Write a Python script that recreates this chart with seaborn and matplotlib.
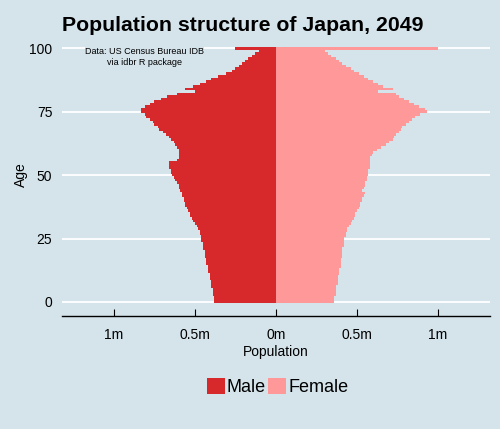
import numpy as np
import pandas as pd
import matplotlib
matplotlib.use('Agg')
import matplotlib.pyplot as plt
import seaborn as sns

# Japan, 2049 (US Census Bureau IDB projection), population in millions, ages 0..100
ages = list(range(0, 101))

male = [
    0.38, 0.38, 0.38, 0.39, 0.39, 0.39, 0.40, 0.40, 0.40, 0.41,   # 0-9
    0.41, 0.41, 0.42, 0.42, 0.42, 0.43, 0.43, 0.43, 0.44, 0.44,   # 10-19
    0.44, 0.45, 0.45, 0.45, 0.46, 0.46, 0.46, 0.47, 0.47, 0.48,   # 20-29
    0.49, 0.50, 0.51, 0.52, 0.53, 0.53, 0.54, 0.55, 0.56, 0.56,   # 30-39
    0.57, 0.57, 0.58, 0.58, 0.59, 0.60, 0.60, 0.61, 0.62, 0.63,   # 40-49
    0.64, 0.65, 0.65, 0.66, 0.66, 0.66, 0.61, 0.60, 0.60, 0.60,   # 50-59
    0.60, 0.61, 0.62, 0.63, 0.65, 0.66, 0.68, 0.70, 0.72, 0.73,   # 60-69
    0.75, 0.76, 0.78, 0.80, 0.81, 0.83, 0.83, 0.81, 0.78, 0.75,   # 70-79
    0.71, 0.67, 0.61, 0.50, 0.56, 0.51, 0.47, 0.43, 0.40, 0.36,   # 80-89
    0.31, 0.27, 0.25, 0.23, 0.21, 0.19, 0.17, 0.15, 0.13, 0.105,  # 90-99
    0.25,                                                         # 100+
]

female = [
    0.36, 0.36, 0.36, 0.37, 0.37, 0.37, 0.37, 0.38, 0.38, 0.38,   # 0-9
    0.38, 0.39, 0.39, 0.39, 0.40, 0.40, 0.40, 0.40, 0.41, 0.41,   # 10-19
    0.41, 0.41, 0.42, 0.42, 0.42, 0.42, 0.43, 0.43, 0.44, 0.44,   # 20-29
    0.45, 0.46, 0.47, 0.48, 0.49, 0.49, 0.50, 0.51, 0.52, 0.52,   # 30-39
    0.53, 0.53, 0.54, 0.55, 0.53, 0.54, 0.55, 0.55, 0.56, 0.56,   # 40-49
    0.57, 0.57, 0.57, 0.58, 0.58, 0.58, 0.58, 0.58, 0.59, 0.60,   # 50-59
    0.62, 0.65, 0.68, 0.70, 0.72, 0.73, 0.74, 0.76, 0.77, 0.78,   # 60-69
    0.80, 0.82, 0.84, 0.86, 0.89, 0.93, 0.92, 0.88, 0.85, 0.82,   # 70-79
    0.79, 0.76, 0.74, 0.63, 0.72, 0.66, 0.63, 0.60, 0.57, 0.54,   # 80-89
    0.51, 0.48, 0.46, 0.43, 0.41, 0.39, 0.37, 0.34, 0.32, 0.30,   # 90-99
    1.00,                                                         # 100+
]

x_ticks = [-1e6, -0.5e6, 0, 0.5e6, 1e6]
x_labels = ['1m', '0.5m', '0m', '0.5m', '1m']
y_ticks = [0, 25, 50, 75, 100]

bg = '#d5e4eb'
colors = {'Male': '#d7292b', 'Female': '#ff9999'}

# long format, males on the negative side
df = pd.DataFrame({
    'age': ages + ages,
    'population': [-v * 1e6 for v in male] + [v * 1e6 for v in female],
    'sex': ['Male'] * len(ages) + ['Female'] * len(ages),
})

sns.set_theme(style='white', rc={'axes.facecolor': bg, 'figure.facecolor': bg,
                                 'text.color': 'black', 'axes.labelcolor': 'black',
                                 'xtick.color': 'black', 'ytick.color': 'black'})
plt.rcParams['font.family'] = ['Liberation Sans', 'DejaVu Sans']

fig, ax = plt.subplots(figsize=(5, 4.29), dpi=100)
fig.subplots_adjust(left=0.124, right=0.98, bottom=0.2634, top=0.923)

sns.barplot(
    data=df, x='population', y='age', hue='sex',
    hue_order=['Male', 'Female'], palette=colors, saturation=1,
    orient='h', native_scale=True, dodge=False, width=1,
    errorbar=None, linewidth=0, edgecolor='none', antialiased=False,
    ax=ax, zorder=2)

ax.set_xlim(-1.32e6, 1.32e6)
ax.set_ylim(-5.55, 106.05)

# white horizontal grid lines
ax.set_yticks(y_ticks)
ax.yaxis.grid(True, color='white', lw=1.3)
ax.xaxis.grid(False)
ax.set_axisbelow(True)

ax.set_xticks(x_ticks)
ax.set_xticklabels(x_labels)
ax.tick_params(axis='x', direction='in', length=5, width=0.8, color='black',
               labelsize=10, pad=8.5, bottom=True)
ax.tick_params(axis='y', length=0, labelsize=10, pad=7)

for side in ['top', 'right', 'left']:
    ax.spines[side].set_visible(False)
ax.spines['bottom'].set_color('black')
ax.spines['bottom'].set_linewidth(1.0)

ax.set_xlabel('Population', fontsize=10, labelpad=2)
ax.set_ylabel('Age', fontsize=10, labelpad=1)

ax.set_title('Population structure of Japan, 2049', fontsize=15.3, fontweight='bold',
             loc='left', x=0.0, pad=1.5)

ax.text(-0.81e6, 96.6, 'Data: US Census Bureau IDB\nvia idbr R package',
        ha='center', va='center', fontsize=6.5, linespacing=1.25, zorder=3,
        bbox=dict(facecolor=bg, edgecolor='none', pad=0))

# legend below the panel
handles, labels = ax.get_legend_handles_labels()
if ax.get_legend() is not None:
    ax.get_legend().remove()
fig.legend(handles, labels, loc='center', bbox_to_anchor=(0.555, 0.098), ncol=2,
           frameon=False, fontsize=13, handlelength=1.0, handleheight=1.0,
           handletextpad=0.1, columnspacing=0.15, borderaxespad=0)

plt.savefig('out.png', dpi=100, facecolor=bg)
